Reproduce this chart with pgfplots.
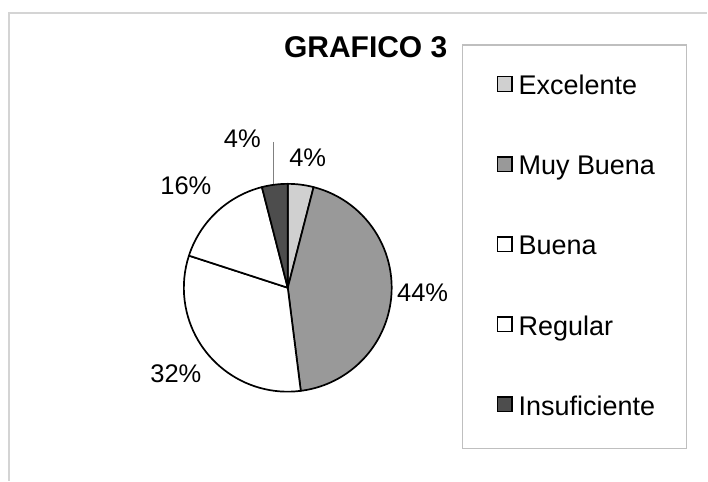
\documentclass[border=0pt]{standalone}
\usepackage{pgfplots}
\pgfplotsset{compat=1.18}
\usepackage{pgfplotstable}
\usepackage{fontspec}
\setmainfont{Liberation Sans}
\definecolor{cExc}{HTML}{D0D0D0}
\definecolor{cMuy}{HTML}{999999}
\definecolor{cBue}{HTML}{FFFFFF}
\definecolor{cReg}{HTML}{FFFFFF}
\definecolor{cIns}{HTML}{4D4D4D}
\definecolor{frameC}{HTML}{D4D4D4}

\pgfplotstableread[col sep=comma]{
label,value,color,lx,ly
Excelente,4,cExc,308,167
Muy Buena,44,cMuy,423,302
Buena,32,cBue,176,383
Regular,16,cReg,186,195
Insuficiente,4,cIns,242.5,148
}\piedata

\begin{document}
\begin{tikzpicture}
\begin{axis}[
  x=1pt, y=1pt,
  xmin=0, xmax=708, ymin=0, ymax=481,
  y dir=reverse,
  hide axis, clip=false,
  /pgf/number format/assume math mode=true,
  legend style={draw=none, fill=none, at={(axis cs:497,76)}, anchor=north west,
    inner sep=0pt, row sep=61.5pt, column sep=6pt,
    nodes={inner sep=0pt, text height=18pt, text depth=0pt},
    font=\fontsize{27}{29}\selectfont},
  legend cell align=left,
  legend image code/.code={\draw[#1, line width=1.3pt] (0pt,-5.5pt) rectangle (14.5pt,9pt);},
]
\path (axis cs:0,0) (axis cs:708,481);
\coordinate (C) at (axis cs:288,288);
% outer frame
\draw[frameC, line width=1.2pt] (axis cs:9,481) -- (axis cs:9,13) -- (axis cs:708,13);
% legend box
\draw[frameC!90!black, line width=1.2pt] (axis cs:463,45) rectangle (axis cs:687,449);
% title
\node[font=\bfseries\fontsize{30}{32}\selectfont, anchor=base] at (axis cs:366,58) {GRAFICO 3};
% leader line
\draw[gray, line width=0.8pt] (axis cs:274,142) -- (axis cs:274,185);
% percentage labels
\addplot[draw=none, mark=none, forget plot, point meta=explicit,
  nodes near coords={\pgfmathprintnumber{\pgfplotspointmeta}\%},
  nodes near coords style={anchor=base, inner sep=0pt, font=\fontsize{25.5}{27}\selectfont}]
  table[x=lx, y=ly, meta=value] {\piedata};
\addlegendimage{fill=cExc, draw=black}
\addlegendimage{fill=cMuy, draw=black}
\addlegendimage{fill=cBue, draw=black}
\addlegendimage{fill=cReg, draw=black}
\addlegendimage{fill=cIns, draw=black}
\legend{Excelente, Muy Buena, Buena, Regular, Insuficiente}
\end{axis}
\def\R{104pt}
\def\cum{0}
\pgfplotsforeachungrouped \i in {0,...,4}{%
  \pgfplotstablegetelem{\i}{value}\of\piedata \let\v\pgfplotsretval
  \pgfplotstablegetelem{\i}{color}\of\piedata \let\col\pgfplotsretval
  \pgfmathsetmacro\aS{90-3.6*\cum}%
  \pgfmathsetmacro\aE{90-3.6*(\cum+\v)}%
  \filldraw[fill=\col, draw=black, line width=1.7pt, line join=round]
    (C) -- ++(\aS:\R) arc[start angle=\aS, end angle=\aE, radius=\R] -- cycle;
  \pgfmathsetmacro\cum{\cum+\v}%
}
\end{tikzpicture}
\end{document}
